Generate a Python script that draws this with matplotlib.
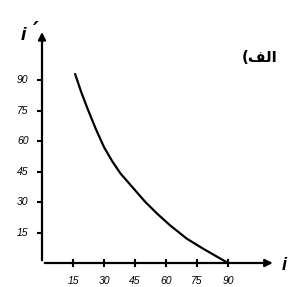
import matplotlib.pyplot as plt
import numpy as np

# curve (angle of incidence vs angle of refraction)
x_vals = [16, 19, 22, 26, 30, 34, 38, 44, 50, 56, 62, 70, 78, 84, 90]
y_vals = [93, 84, 76, 66, 57, 50, 44, 37, 30, 24, 18.5, 12, 7, 3.5, 0]

x_ticks = [15, 30, 45, 60, 75, 90]
y_ticks = [15, 30, 45, 60, 75, 90]
panel_label = "(\uFED2\uFEDF\uFE8D"   # "الف)" in visual order with presentation forms

fig = plt.figure(figsize=(2.9, 2.87), dpi=100)
ax = fig.add_axes([0, 0, 1, 1])
ax.axis('off')
# pixel mapping: origin at (42, 263), ~2.067 px per unit in x, ~2.033 in y
ax.set_xlim(-42 / 2.067, (290 - 42) / 2.067)
ax.set_ylim(-(287 - 263) / 2.033, 263 / 2.033)

# axes with arrow heads
ax.annotate('', xy=(113, 0), xytext=(0, 0),
            arrowprops=dict(arrowstyle='-|>', lw=1.6, color='black', mutation_scale=11))
ax.annotate('', xy=(0, 115), xytext=(0, 0),
            arrowprops=dict(arrowstyle='-|>', lw=1.6, color='black', mutation_scale=11))

# tick marks
ax.plot(x_ticks, [0] * len(x_ticks), ls='none', marker='|', ms=6, mew=1.5, color='black')
ax.plot([-1.2] * len(y_ticks), y_ticks, ls='none', marker='_', ms=4, mew=1.5, color='black')

tfont = dict(family='Liberation Sans', style='italic', size=7.5, color='black')
for t in x_ticks:
    ax.text(t, -9, str(t), ha='center', va='center', **tfont)
for t in y_ticks:
    ax.text(-6.5, t, str(t), ha='right', va='center', **tfont)

# the curve
ax.plot(x_vals, y_vals, color='black', lw=1.6, solid_capstyle='round',
        solid_joinstyle='round')

# axis labels
ax.text(-9.2, 112, "i", ha='center', va='center', family='Liberation Sans',
        style='italic', fontweight='bold', size=14)
ax.text(-3.0, 114, "\u2032", ha='center', va='center', family='DejaVu Sans',
        style='italic', fontweight='bold', size=16)
ax.text(116.2, -1, "i", ha='left', va='center', family='Liberation Sans',
        style='italic', fontweight='bold', size=13)

ax.text(113.7, 101, panel_label, ha='right', va='center', family='DejaVu Sans',
        fontweight='bold', size=11)

fig.savefig('out.png', dpi=100)
